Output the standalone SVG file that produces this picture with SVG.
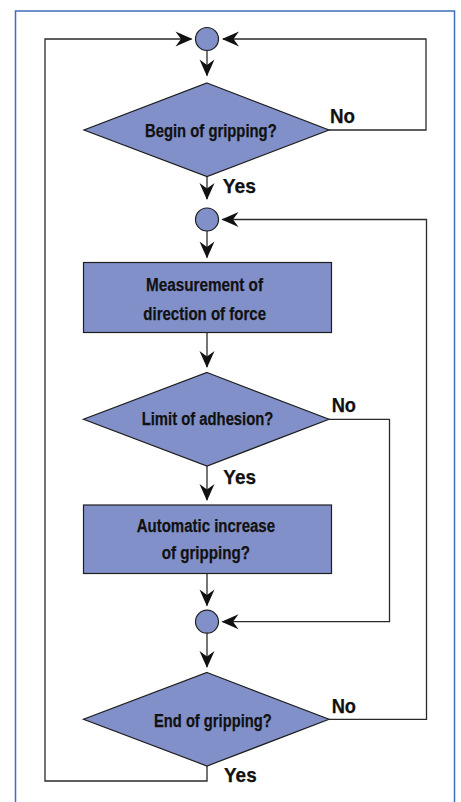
<svg xmlns="http://www.w3.org/2000/svg" width="461" height="802" viewBox="0 0 461 802">
  <style>
    .node { fill: #8190c8; stroke: #1e1e1e; stroke-width: 1.2; }
    .conn { fill: none; stroke: #2a2a2a; stroke-width: 1.3; }
    .txt { font-family: "Liberation Sans Narrow", "Liberation Sans", Arial, sans-serif; font-weight: bold; fill: #111; stroke: #111; stroke-width: 0.25; font-size: 18.8px; }
    .lbl { font-family: "Liberation Sans Narrow", "Liberation Sans", Arial, sans-serif; font-weight: bold; fill: #111; stroke: #111; stroke-width: 0.25; font-size: 20.5px; }
  </style>
  <defs>
    <marker id="arr" viewBox="-18 -8 19 16" markerWidth="19" markerHeight="16" refX="-1" refY="0" orient="auto" markerUnits="userSpaceOnUse">
      <path d="M0,0 C-4,-1.5 -10,-4.5 -17,-7.5 L-11.5,0 L-17,7.5 C-10,4.5 -4,1.5 0,0 Z" fill="#111"/>
    </marker>
  </defs>
  <rect x="15.5" y="11" width="439" height="800" fill="#fff" stroke="#3f6dbf" stroke-width="1.5"/>

  <g id="connectors">
    <path class="conn" d="M207,766 V781 H45 V39 H191.5" marker-end="url(#arr)"/>
    <path class="conn" d="M329,130 H426 V39 H223" marker-end="url(#arr)"/>
    <path class="conn" d="M207,50.5 V75.5" marker-end="url(#arr)"/>
    <path class="conn" d="M207,176.5 V199" marker-end="url(#arr)"/>
    <path class="conn" d="M329,719.3 H426.5 V219.5 H222.5" marker-end="url(#arr)"/>
    <path class="conn" d="M207,231 V257.5" marker-end="url(#arr)"/>
    <path class="conn" d="M207,332.5 V367" marker-end="url(#arr)"/>
    <path class="conn" d="M207,466 V500" marker-end="url(#arr)"/>
    <path class="conn" d="M329,419.3 H389.5 V621.7 H222.5" marker-end="url(#arr)"/>
    <path class="conn" d="M207,573.5 V605.5" marker-end="url(#arr)"/>
    <path class="conn" d="M207,633.2 V667" marker-end="url(#arr)"/>
  </g>

  <g id="merge1"><circle class="node" cx="207" cy="39" r="11.5"/></g>
  <g id="begin">
    <polygon class="node" points="207,83 329,130 207,176.5 84,130"/>
    <text class="txt" x="145" y="136.7" textLength="131.7" lengthAdjust="spacingAndGlyphs">Begin of gripping?</text>
  </g>
  <g id="merge2"><circle class="node" cx="207" cy="219.5" r="11.5"/></g>
  <g id="measure">
    <rect class="node" x="83.5" y="262.5" width="248" height="70"/>
    <text class="txt" x="146" y="291" textLength="117" lengthAdjust="spacingAndGlyphs">Measurement of</text>
    <text class="txt" x="143.3" y="320" textLength="122.7" lengthAdjust="spacingAndGlyphs">direction of force</text>
  </g>
  <g id="limit">
    <polygon class="node" points="207,372.5 329,419.3 207,466 83.5,419.3"/>
    <text class="txt" x="141.7" y="425" textLength="131.7" lengthAdjust="spacingAndGlyphs">Limit of adhesion?</text>
  </g>
  <g id="increase">
    <rect class="node" x="83.5" y="505" width="248" height="68.5"/>
    <text class="txt" x="136.7" y="531.7" textLength="138.3" lengthAdjust="spacingAndGlyphs">Automatic increase</text>
    <text class="txt" x="161.7" y="559.3" textLength="88.3" lengthAdjust="spacingAndGlyphs">of gripping?</text>
  </g>
  <g id="merge3"><circle class="node" cx="207" cy="621.7" r="11.5"/></g>
  <g id="end">
    <polygon class="node" points="207,672.5 329,719.3 207,766 83.5,719.3"/>
    <text class="txt" x="154" y="727.3" textLength="117.7" lengthAdjust="spacingAndGlyphs">End of gripping?</text>
  </g>

  <g id="labels">
    <text class="lbl" x="330" y="123.3" textLength="25" lengthAdjust="spacingAndGlyphs">No</text>
    <text class="lbl" x="222.7" y="193" textLength="33.3" lengthAdjust="spacingAndGlyphs">Yes</text>
    <text class="lbl" x="331.7" y="411.7" textLength="24.3" lengthAdjust="spacingAndGlyphs">No</text>
    <text class="lbl" x="223.3" y="484.3" textLength="32.7" lengthAdjust="spacingAndGlyphs">Yes</text>
    <text class="lbl" x="331.7" y="713.3" textLength="24.3" lengthAdjust="spacingAndGlyphs">No</text>
    <text class="lbl" x="224" y="781.7" textLength="32.7" lengthAdjust="spacingAndGlyphs">Yes</text>
  </g>
</svg>
